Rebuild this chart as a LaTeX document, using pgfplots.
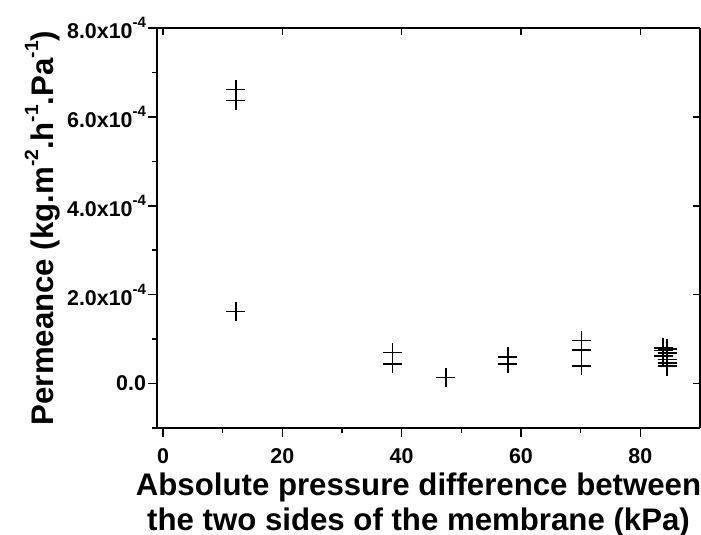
\documentclass[border=0pt]{standalone}
\usepackage{fontspec}
\setmainfont{Liberation Sans}
\usepackage{pgfplots}
\pgfplotsset{compat=1.18}
\newcommand{\tsup}[1]{\raisebox{5.3pt}{\fontsize{7.5}{7.5}\selectfont\bfseries #1}}
\newcommand{\lsup}[1]{\raisebox{7.5pt}{\fontsize{9.6}{9.6}\selectfont\bfseries #1}}
\begin{document}
\begin{tikzpicture}
\begin{axis}[name=ax, scale only axis, width=271.5pt, height=200pt,
  xmin=-1, xmax=90, ymin=-1e-4, ymax=8e-4,
  axis x line*=bottom, axis y line*=left,
  axis line style={-, line width=0.75pt},
  tick align=outside,
  xtick={0,20,40,60,80}, minor xtick={10,30,50,70},
  ytick={0,2e-4,4e-4,6e-4,8e-4}, minor ytick={-1e-4,1e-4,3e-4,5e-4,7e-4},
  scaled y ticks=false,
  /pgf/number format/assume math mode=true,
  yticklabels={0.0, 2.0x10\tsup{-4}, 4.0x10\tsup{-4}, 6.0x10\tsup{-4}, 8.0x10\tsup{-4}},
  major tick length=4.5pt, minor tick length=2.5pt,
  every tick/.style={black, line width=0.75pt},
  tick label style={font=\fontsize{10.7}{12}\selectfont\bfseries},
  x tick label style={yshift=-2pt},
  y tick label style={xshift=2.5pt},
  xlabel={Absolute pressure difference between\\the two sides of the membrane (kPa)},
  xlabel style={at={(axis description cs:0.4816,-0.11)}, anchor=north, inner sep=0pt, align=center, font=\fontsize{15.6}{17.8}\selectfont\bfseries},
  ylabel={Permeance (kg.m\lsup{-2}.h\lsup{-1}.Pa\lsup{-1})},
  ylabel style={at={(axis description cs:-0.1915,0.5)}, anchor=base, inner sep=0pt, font=\fontsize{15.6}{17.8}\selectfont\bfseries},
  clip=false,
]
\addplot[only marks, mark=+, mark size=4.75pt, line width=0.75pt, black] coordinates {
  (12.2,6.62e-4) (12.2,6.37e-4) (12.2,1.62e-4)
  (38.5,0.70e-4) (38.5,0.44e-4)
  (47.4,0.14e-4)
  (57.8,0.60e-4) (57.8,0.44e-4)
  (70.1,0.97e-4) (70.1,0.76e-4) (70.1,0.40e-4)
  (83.8,0.80e-4) (83.8,0.74e-4) (83.8,0.62e-4)
  (84.5,0.78e-4) (84.5,0.69e-4) (84.5,0.54e-4) (84.5,0.46e-4) (84.5,0.39e-4)
};
\end{axis}
\begin{axis}[scale only axis, width=271.5pt, height=200pt,
  xmin=-1, xmax=90, ymin=-1e-4, ymax=8e-4,
  axis x line*=top, axis y line*=right,
  axis line style={-, line width=0.75pt},
  tick align=inside,
  xtick={0,20,40,60,80}, minor xtick={},
  ytick={0,2e-4,4e-4,6e-4,8e-4},
  xticklabels={}, yticklabels={},
  scaled y ticks=false,
  major tick length=3.5pt,
  every tick/.style={black, line width=0.75pt},
]
\end{axis}
\pgfresetboundingbox
\path[use as bounding box] ([shift={(-78.5pt,-53.5pt)}]ax.south west) rectangle ([shift={(0.5pt,14pt)}]ax.north east);
\end{tikzpicture}
\end{document}
